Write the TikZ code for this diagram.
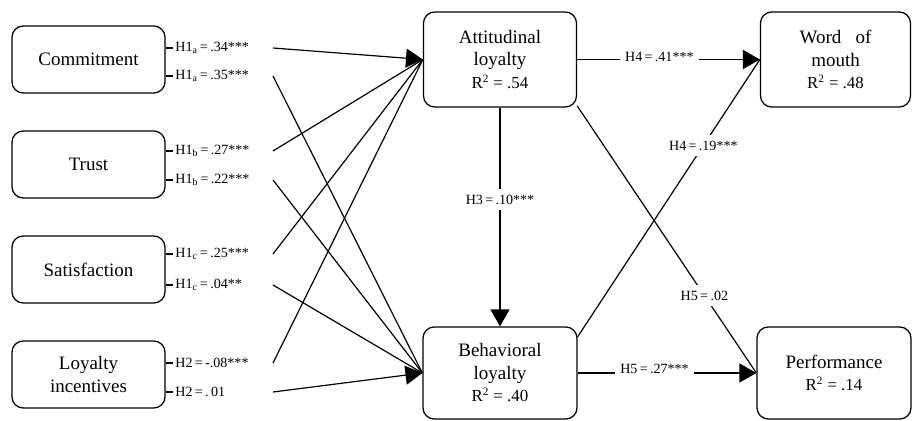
\documentclass[tikz,border=0pt]{standalone}
\usepackage{fontspec}
\setmainfont{Liberation Serif}
\usetikzlibrary{arrows.meta}

\begin{document}
\begin{tikzpicture}[x=0.025cm, y=-0.025cm, >={Triangle[length=12pt, width=13.5pt]}]
    \tikzset{
        construct/.style={draw, line width=0.9pt, rounded corners=8pt, align=center,
            inner sep=0pt, font=\fontsize{13.5}{16}\selectfont},
        coef/.style={font=\fontsize{10}{12}\selectfont, inner sep=1.5pt, anchor=west},
        onpath/.style={font=\fontsize{10}{12}\selectfont, fill=white, inner sep=4pt},
        path line/.style={line width=0.85pt}
    }
    \useasboundingbox (0,0) rectangle (912,420);

    % antecedents
    \node[construct, minimum width=3.825cm, minimum height=1.675cm] (com) at (88.5,59.5) {Commitment};
    \node[construct, minimum width=3.825cm, minimum height=1.675cm] (tru) at (88.5,164.5) {Trust};
    \node[construct, minimum width=3.825cm, minimum height=1.675cm] (sat) at (88.5,269.5) {Satisfaction};
    \node[construct, minimum width=3.825cm, minimum height=1.675cm] (inc) at (88.5,374.5) {Loyalty\\incentives};

    % loyalty and outcomes
    \node[construct, minimum width=3.825cm, minimum height=2.375cm] (att) at (500,59.5)
        {Attitudinal\\loyalty\\{\fontsize{12}{14}\selectfont R\textsuperscript{2} = .54}};
    \node[construct, minimum width=3.75cm, minimum height=2.375cm] (wom) at (835.5,59.5)
        {Word\ \ \ of\\mouth\\{\fontsize{12}{14}\selectfont R\textsuperscript{2} = .48}};
    \node[construct, minimum width=3.85cm, minimum height=2.3cm] (beh) at (500,373)
        {Behavioral\\loyalty\\{\fontsize{12}{14}\selectfont R\textsuperscript{2} = .40}};
    \node[construct, minimum width=3.85cm, minimum height=2.3cm] (perf) at (834,373)
        {Performance\\{\fontsize{12}{14}\selectfont R\textsuperscript{2} = .14}};

    % coefficients beside the antecedents
    \node[coef] (la1) at (173,48) {H1\textsubscript{a}\,=\,.34***};
    \node[coef] (la2) at (173,76) {H1\textsubscript{a}\,=\,.35***};
    \node[coef] (lb1) at (173,151) {H1\textsubscript{b}\,=\,.27***};
    \node[coef] (lb2) at (173,180) {H1\textsubscript{b}\,=\,.22***};
    \node[coef] (lc1) at (173,254) {H1\textsubscript{c}\,=\,.25***};
    \node[coef] (lc2) at (173,285) {H1\textsubscript{c}\,=\,.04**};
    \node[coef] (ld1) at (173,363) {H2\,=\,-.08***};
    \node[coef] (ld2) at (173,392) {H2\,=\,.\,01};

    \foreach \src/\lab in {com/la1, com/la2, tru/lb1, tru/lb2, sat/lc1, sat/lc2, inc/ld1, inc/ld2}
        \draw[line width=0.9pt] (\src.east |- \lab.west) -- (\lab.west);

    \coordinate (s1) at (273,48);
    \coordinate (s2) at (273,76);
    \coordinate (s3) at (273,151);
    \coordinate (s4) at (273,180);
    \coordinate (s5) at (273,254);
    \coordinate (s6) at (273,285);
    \coordinate (s7) at (273,363);
    \coordinate (s8) at (273,392);

    \draw[path line, ->] (s1) -- (att.west);
    \draw[path line] (s3) -- (att.west);
    \draw[path line] (s5) -- (att.west);
    \draw[path line] (s7) -- (att.west);

    \draw[path line, ->] (s8) -- (beh.west);
    \draw[path line] (s2) -- (beh.west);
    \draw[path line] (s4) -- (beh.west);
    \draw[path line] (s6) -- (beh.west);

    % paths between the loyalty constructs and the outcomes
    \draw[path line, ->] (att.south) -- node[onpath, pos=0.42] {H3\,=\,.10***} (beh.north);
    \draw[path line] (beh.25) -- node[onpath, pos=0.69] {H4\,=\,.19***} (wom.west);
    \draw[path line] (att.-31) -- node[onpath, pos=0.71] {H5\,=\,.02} (perf.west);
    \draw[line width=1.2pt, ->] (att.east) -- node[onpath, pos=0.45, yshift=2pt] {H4\,=\,.41***} (wom.west);
    \draw[path line, ->] (beh.east) -- node[onpath, pos=0.43, yshift=3pt] {H5\,=\,.27***} (perf.west);

\end{tikzpicture}
\end{document}
